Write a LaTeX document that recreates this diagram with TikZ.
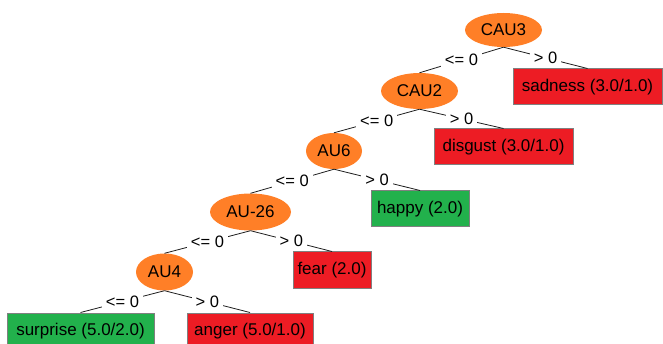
\documentclass[tikz,border=0pt]{standalone}
\usepackage{fontspec}
\setmainfont{Liberation Sans}
\usetikzlibrary{shapes.geometric}
\definecolor{nodeorange}{RGB}{255,127,39}
\definecolor{leafred}{RGB}{237,28,36}
\definecolor{leafgreen}{RGB}{34,177,76}
\definecolor{boxedge}{RGB}{128,128,128}
\definecolor{edgeline}{RGB}{30,30,30}
\tikzset{
  treenode/.style={ellipse, fill=nodeorange, inner sep=0pt, font=\fontsize{17}{20}\selectfont},
  leafbox/.style={rectangle, draw=boxedge, line width=1pt, inner sep=0pt, font=\fontsize{17}{20}\selectfont},
  redleaf/.style={leafbox, fill=leafred},
  greenleaf/.style={leafbox, fill=leafgreen},
  lbl/.style={fill=white, inner xsep=4pt, inner ysep=1.5pt, font=\fontsize{16.5}{20}\selectfont},
  branch/.style={draw=edgeline, line width=0.8pt}
}
\begin{document}
\begin{tikzpicture}[x=1pt,y=-1pt]
\useasboundingbox (0,0) rectangle (663,344);
\clip (0,0) rectangle (663,344);
% inner nodes
\node[treenode, minimum width=77pt, minimum height=34pt] (cau3) at (503.5,30) {CAU3};
\node[treenode, minimum width=77pt, minimum height=36pt] (cau2) at (419.5,91) {CAU2};
\node[treenode, minimum width=56pt, minimum height=36pt] (au6) at (334,151) {AU6};
\node[treenode, minimum width=81pt, minimum height=37pt] (au26) at (250.5,212) {AU-26};
\node[treenode, minimum width=57pt, minimum height=37pt] (au4) at (164.5,272) {AU4};
% leaves
\node[redleaf, minimum width=149pt, minimum height=36pt] (sadness) at (587.5,87) {sadness (3.0/1.0)};
\node[redleaf, minimum width=139pt, minimum height=36pt] (disgust) at (503.5,147) {disgust (3.0/1.0)};
\node[greenleaf, minimum width=98pt, minimum height=36pt] (happy) at (420,209) {happy (2.0)};
\node[redleaf, minimum width=78pt, minimum height=36pt] (fear) at (332,270) {fear (2.0)};
\node[greenleaf, minimum width=147pt, minimum height=36pt] (surprise) at (80.5,331) {surprise (5.0/2.0)};
\node[redleaf, minimum width=126pt, minimum height=36pt] (anger) at (250,331) {anger (5.0/1.0)};
% branches
\draw[branch] (cau3.south) -- node[lbl] {<= 0} (cau2.north);
\draw[branch] (cau3.south) -- node[lbl] {> 0} (sadness.north);
\draw[branch] (cau2.south) -- node[lbl] {<= 0} (au6.north);
\draw[branch] (cau2.south) -- node[lbl] {> 0} (disgust.north);
\draw[branch] (au6.south) -- node[lbl] {<= 0} (au26.north);
\draw[branch] (au6.south) -- node[lbl] {> 0} (happy.north);
\draw[branch] (au26.south) -- node[lbl] {<= 0} (au4.north);
\draw[branch] (au26.south) -- node[lbl] {> 0} (fear.north);
\draw[branch] (au4.south) -- node[lbl] {<= 0} (surprise.north);
\draw[branch] (au4.south) -- node[lbl] {> 0} (anger.north);
\end{tikzpicture}
\end{document}
